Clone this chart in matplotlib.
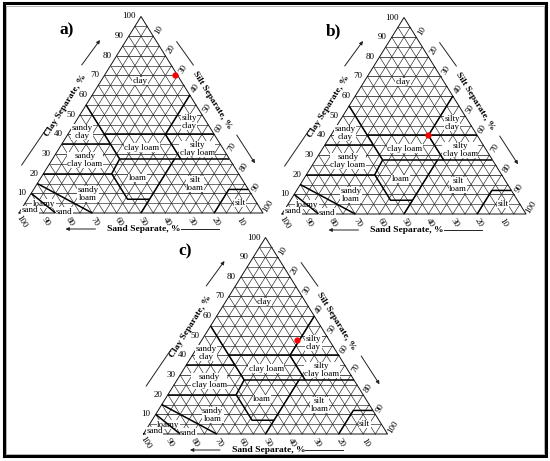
import matplotlib
matplotlib.use('Agg')
import matplotlib.pyplot as plt
from matplotlib.patches import Rectangle

# ---------------- data ----------------
panel_letters = ['a)', 'b)', 'c)']
# sample composition (sand, silt, clay %) for each panel
sample_sand = [1, 20, 13]
sample_silt = [29, 40, 39]
sample_clay = [70, 40, 48]

tick_values = [10, 20, 30, 40, 50, 60, 70, 80, 90, 100]

# USDA texture class boundaries, each a polyline of (sand, silt, clay)
boundary_lines = [
    [(45, 0, 55), (45, 27.5, 27.5)],
    [(65, 0, 35), (45, 20, 35)],
    [(45, 15, 40), (0, 60, 40)],
    [(20, 40, 40), (0, 40, 60)],
    [(20, 40, 40), (20, 52.5, 27.5)],
    [(45, 27.5, 27.5), (0, 72.5, 27.5)],
    [(80, 0, 20), (52, 28, 20)],
    [(45, 27.5, 27.5), (52, 28, 20), (52, 41, 7), (43, 50, 7)],
    [(22.5, 50, 27.5), (50, 50, 0)],
    [(20, 80, 0), (8, 80, 12), (0, 88, 12)],
    [(85, 0, 15), (70, 30, 0)],
    [(90, 0, 10), (85, 15, 0)],
]

class_names = ['clay', 'sandy\nclay', 'silty\nclay', 'clay loam', 'silty\nclay loam',
               'sandy\nclay loam', 'loam', 'silt\nloam', 'sandy\nloam', 'loamy',
               'sand', 'sand', 'silt']

axis_titles = ['Clay Separate, %', 'Silt Separate, %', 'Sand Separate, %']

# ---------------- layout ----------------
W, H = 244.0, 196.5
apexes = [(141.0, 16.5), (404.0, 17.5), (265.5, 237.5)]
letter_pos = [(66.7, 30.0), (333.3, 31.5), (185.0, 251.5)]
label_rel = [(-0.004, 0.328), (-0.242, 0.588), (0.197, 0.537), (0.003, 0.668),
             (0.230, 0.674), (-0.230, 0.730), (-0.014, 0.822), (0.221, 0.852),
             (-0.217, 0.903), (-0.398, 0.952), (-0.316, 0.993), (-0.455, 0.985),
             (0.406, 0.949)]

SERIF = ['Liberation Serif', 'DejaVu Serif']

fig = plt.figure(figsize=(5.5, 4.61), dpi=100)
ax = fig.add_axes([0, 0, 1, 1])
ax.set_xlim(0, 550)
ax.set_ylim(461, 0)
ax.axis('off')


def txy(apex, sand, silt, clay):
    ax0, ay0 = apex
    x = ax0 - W / 2 + W * (silt + clay / 2.0) / 100.0
    y = ay0 + H * (1 - clay / 100.0)
    return x, y


def seg(apex, p, q, **kw):
    x1, y1 = txy(apex, *p)
    x2, y2 = txy(apex, *q)
    ax.plot([x1, x2], [y1, y2], **kw)


for pi, apex in enumerate(apexes):
    # grid
    for k in range(5, 100, 5):
        lw = 0.55 if k % 10 == 0 else 0.45
        seg(apex, (100 - k, 0, k), (0, 100 - k, k), color='#222222', lw=lw, zorder=1)
        seg(apex, (k, 100 - k, 0), (k, 0, 100 - k), color='#222222', lw=0.45, zorder=1)
        seg(apex, (100 - k, k, 0), (0, k, 100 - k), color='#222222', lw=0.45, zorder=1)
    # outline
    corners = [(100, 0, 0), (0, 100, 0), (0, 0, 100), (100, 0, 0)]
    xs, ys = zip(*[txy(apex, *c) for c in corners])
    ax.plot(xs, ys, color='#111111', lw=0.7, zorder=2)

    # class labels
    for name, (rx, ry) in zip(class_names, label_rel):
        ax.text(apex[0] + rx * W, apex[1] + ry * H, name, fontsize=6.5,
                family=SERIF, ha='center', va='center', linespacing=0.9,
                zorder=3,
                bbox=dict(boxstyle='square,pad=0.05', fc='white', ec='none'))

    # boundaries
    for line in boundary_lines:
        pts = [txy(apex, *p) for p in line]
        xs, ys = zip(*pts)
        ax.plot(xs, ys, color='black', lw=1.1, zorder=4, solid_capstyle='butt')

    # tick labels
    for v in tick_values:
        # clay (left edge)
        x, y = txy(apex, 100 - v, 0, v)
        ax.text(x - 5, y, str(v), fontsize=6.5, family=SERIF, ha='right', va='center')
        # silt (right edge)
        x, y = txy(apex, 0, v, 100 - v)
        ax.text(x + 5.5, y - 6.5, str(v), fontsize=6.5, family=SERIF, ha='center',
                va='center', rotation=58)
        # sand (base)
        x, y = txy(apex, v, 100 - v, 0)
        ax.text(x + 2, y + 8.5, str(v), fontsize=6.5, family=SERIF, ha='center',
                va='center', rotation=-58)

    ax0, ay0 = apex
    # axis titles
    ax.text(ax0 - 75, ay0 + 89, axis_titles[0], fontsize=6.8, family=SERIF,
            weight='bold', ha='center', va='center', rotation=58)
    ax.text(ax0 + 71, ay0 + 84, axis_titles[1], fontsize=6.8, family=SERIF,
            weight='bold', ha='center', va='center', rotation=-58)
    ax.text(ax0 + 3, ay0 + H + 15.5, axis_titles[2], fontsize=6.8, family=SERIF,
            weight='bold', ha='center', va='center')

    # guide lines and arrows
    ax.plot([ax0 - 119.3, ax0 - 94.3], [ay0 + 148.5, ay0 + 111.8], color='#222222', lw=0.7)
    ax.annotate('', xy=(ax0 - 41, ay0 + 23.5), xytext=(ax0 - 59.3, ay0 + 48.5),
                arrowprops=dict(arrowstyle='-|>', lw=0.7, color='#222222',
                                mutation_scale=5, shrinkA=0, shrinkB=0))
    ax.plot([ax0 + 35.7, ax0 + 52.3], [ay0 + 25.2, ay0 + 48.5], color='#222222', lw=0.7)
    ax.annotate('', xy=(ax0 + 114, ay0 + 146.8), xytext=(ax0 + 95.7, ay0 + 118.5),
                arrowprops=dict(arrowstyle='-|>', lw=0.7, color='#222222',
                                mutation_scale=5, shrinkA=0, shrinkB=0))
    ax.annotate('', xy=(ax0 - 75.5, ay0 + H + 16), xytext=(ax0 - 45.5, ay0 + H + 16),
                arrowprops=dict(arrowstyle='-|>', lw=0.7, color='#222222',
                                mutation_scale=5, shrinkA=0, shrinkB=0))
    ax.plot([ax0 + 39.5, ax0 + 77.8], [ay0 + H + 16, ay0 + H + 16], color='#222222', lw=0.7)

    # panel letter
    ax.text(letter_pos[pi][0], letter_pos[pi][1], panel_letters[pi], fontsize=12.5,
            family=SERIF, weight='bold', ha='center', va='center')

    # sample point
    x, y = txy(apex, sample_sand[pi], sample_silt[pi], sample_clay[pi])
    ax.plot([x], [y], 'o', color='#ff0000', ms=4.5, mec='none', zorder=6)

# frame
ax.add_patch(Rectangle((3.5, 3.5), 542.5, 452.5, fill=False, ec='black', lw=2.2, zorder=7))
ax.add_patch(Rectangle((6, 6), 537.5, 447.5, fill=False, ec='#999999', lw=0.5, zorder=7))

fig.savefig('out.png', dpi=100)
